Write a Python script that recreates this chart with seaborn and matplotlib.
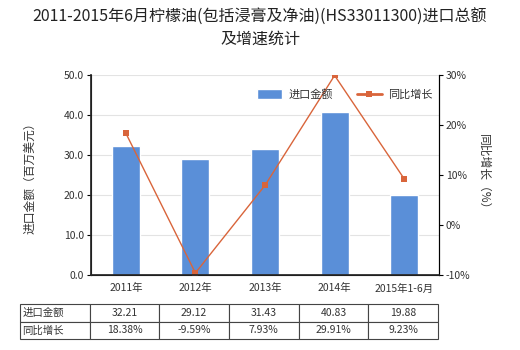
import matplotlib
matplotlib.use("Agg")
import matplotlib.pyplot as plt
from matplotlib.lines import Line2D
import seaborn as sns
import pandas as pd
import numpy as np

categories = ["2011年", "2012年", "2013年", "2014年", "2015年1-6月"]
import_values = [32.21, 29.12, 31.43, 40.83, 19.88]
growth_values = [18.38, -9.59, 7.93, 29.91, 9.23]
import_labels = ["32.21", "29.12", "31.43", "40.83", "19.88"]
growth_labels = ["18.38%", "-9.59%", "7.93%", "29.91%", "9.23%"]
left_ticks = [0, 10, 20, 30, 40, 50]
right_ticks = [-10, 0, 10, 20, 30]

sns.set_theme(style="white")
plt.rcParams['font.family'] = ['Noto Sans CJK SC', 'DejaVu Sans']

bar_color = "#5A8FD8"
line_color = "#D9653B"

fig = plt.figure(figsize=(5.2, 3.5), dpi=100)
ax = fig.add_axes([91/520, 75/350, 348/520, 200/350])

df = pd.DataFrame({"cat": categories, "val": import_values, "g": growth_values})
sns.barplot(data=df, x="cat", y="val", color=bar_color, width=0.4, ax=ax,
            saturation=1, label="进口金额")
if ax.get_legend() is not None:
    ax.get_legend().remove()
ax.set_ylim(0, 50)
ax.set_yticks(left_ticks)
ax.set_yticklabels([f"{t:.1f}" for t in left_ticks], fontsize=7.5, color="#333333")
ax.set_xlim(-0.5, 4.5)
ax.set_xlabel("")
ax.set_ylabel("进口金额（百万美元）", fontsize=8.5, color="#333333", labelpad=20)
ax.tick_params(axis="x", labelsize=7.5, colors="#333333", length=0, pad=6)
ax.tick_params(axis="y", length=3, width=0.8, color="black", pad=2, left=True)
ax.grid(axis="y", color="#e3e3e3", linewidth=0.8)
ax.set_axisbelow(True)
ax.spines["top"].set_visible(False)
for s in ["left", "bottom", "right"]:
    ax.spines[s].set_color("black")
    ax.spines[s].set_linewidth(0.8)

ax2 = ax.twinx()
sns.lineplot(data=df, x="cat", y="g", color=line_color, marker="s", markersize=5,
             markeredgewidth=0, linewidth=1, ax=ax2, legend=False)
ax2.set_ylim(-10, 30)
ax2.set_yticks(right_ticks)
ax2.set_yticklabels([f"{t}%" for t in right_ticks], fontsize=7.5, color="#333333")
ax2.set_ylabel("同比增长（%）", fontsize=8.5, color="#333333", rotation=270, labelpad=14)
ax2.tick_params(axis="y", length=3, width=0.8, color="black", pad=2, right=True)
ax2.spines["top"].set_visible(False)
ax2.spines["right"].set_color("black")
ax2.spines["right"].set_linewidth(0.8)
ax2.set_xlim(-0.5, 4.5)
ax2.set_xlabel("")

h1, l1 = ax.get_legend_handles_labels()
line_handle = Line2D([0], [0], color=line_color, linewidth=2, marker="s",
                     markersize=4.5, markeredgewidth=0)
leg = ax2.legend(h1 + [line_handle], l1 + ["同比增长"], loc="upper center",
                 bbox_to_anchor=(0.73, 0.98), ncol=2, frameon=False, fontsize=8,
                 handlelength=2.2, handleheight=0.9, columnspacing=2.2, handletextpad=0.6)
for t in leg.get_texts():
    t.set_color("#333333")

fig.suptitle("2011-2015年6月柠檬油(包括浸膏及净油)(HS33011300)进口总额\n及增速统计",
             fontsize=11.5, color="#222222", y=0.975, linespacing=1.35)

cell_text = [["进口金额"] + import_labels, ["同比增长"] + growth_labels]
tbl = ax.table(cellText=cell_text, cellLoc="center",
               bbox=[(20-91)/348, (275-339)/200, 418/348, 35/200])
tbl.auto_set_font_size(False)
tbl.set_fontsize(7.5)
for (r, c), cell in tbl.get_celld().items():
    cell.set_edgecolor("#444444")
    cell.set_linewidth(0.8)
    cell.get_text().set_color("#333333")
    if c == 0:
        cell.get_text().set_ha("left")
        cell._loc = "left"
        cell.PAD = 0.03

fig.savefig("out.png", dpi=100)
